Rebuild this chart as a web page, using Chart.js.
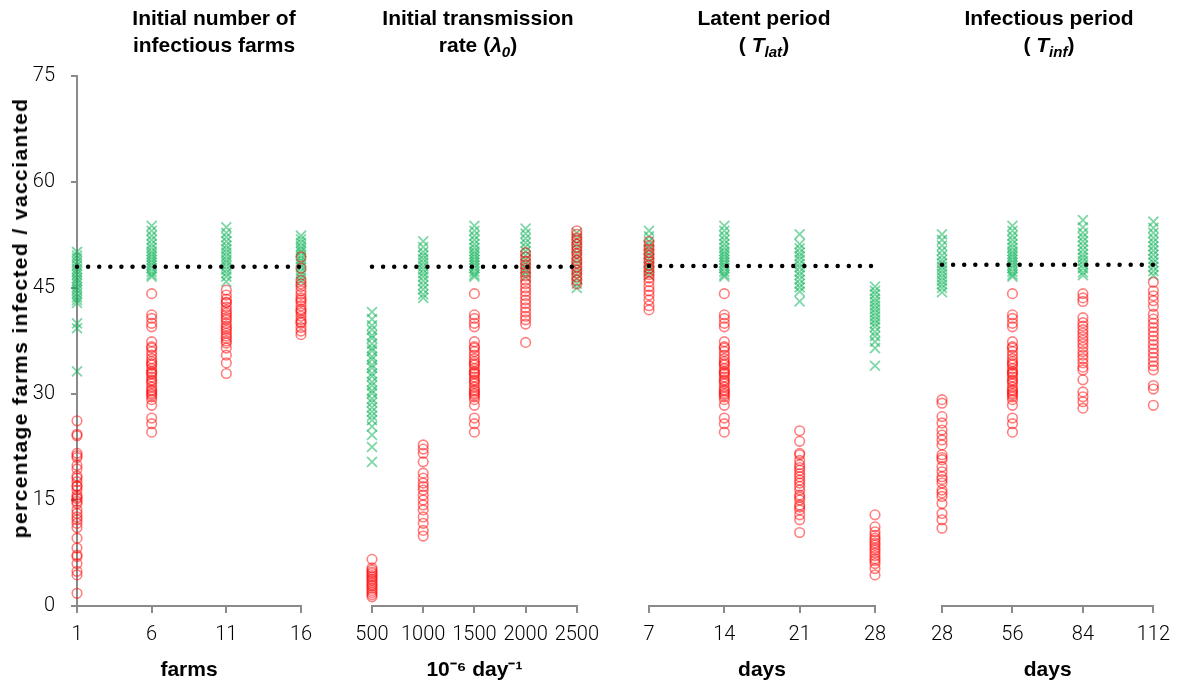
<!DOCTYPE html>
<html>
<head>
<meta charset="utf-8">
<script src="https://cdn.jsdelivr.net/npm/chart.js@4.4.1/dist/chart.umd.min.js"></script>
<style>
  html, body { margin: 0; padding: 0; background: #fff; }
  #wrap { position: relative; width: 1180px; height: 686px; overflow: hidden; }
  #wrap canvas { position: absolute; top: 0; }
  .ttl {
    position: absolute; top: 4px; transform: translateX(-50%);
    font: bold 21px "Liberation Sans", Arial, sans-serif; line-height: 27px;
    text-align: center; white-space: nowrap; color: #000;
  }
  .ttl sub { font-size: 0.72em; line-height: 0; vertical-align: -0.3em; }
  #ytitle {
    position: absolute; left: 20px; top: 318px;
    transform: translate(-50%, -50%) rotate(-90deg);
    font: bold 21px "Liberation Sans", Arial, sans-serif; letter-spacing: 1.4px;
    white-space: nowrap; color: #000;
  }
</style>
</head>
<body>
<div id="wrap">
  <canvas id="p1" width="330" height="686" style="left:0px"></canvas>
  <canvas id="p2" width="267" height="686" style="left:342px"></canvas>
  <canvas id="p3" width="286" height="686" style="left:619px"></canvas>
  <canvas id="p4" width="268" height="686" style="left:912px"></canvas>

  <div class="ttl" style="left:214px">Initial number of<br>infectious farms</div>
  <div class="ttl" style="left:478px">Initial transmission<br>rate (<i>λ<sub>0</sub></i>)</div>
  <div class="ttl" style="left:764px">Latent period<br>( <i>T<sub>lat</sub></i>)</div>
  <div class="ttl" style="left:1049px">Infectious period<br>( <i>T<sub>inf</sub></i>)</div>
  <div id="ytitle">percentage farms infected / vaccianted</div>
</div>

<script>
// baseline runs (6 farms, 1500, 14 days, 56 days) appear in every panel
const baselineInfected   = [44.2, 41.2, 40.7, 40.0, 39.5, 37.4, 36.7, 36.5, 36.0, 35.5, 35.0, 34.6, 34.3, 34.1, 33.6, 33.2, 33.0, 32.8, 32.4, 32.0, 31.8, 31.5, 31.0, 30.6, 30.4, 30.1, 29.9, 29.6, 29.2, 28.4, 26.6, 25.8, 24.6];
const baselineVaccinated = [53.8, 53.1, 52.4, 51.8, 51.2, 50.7, 50.2, 49.8, 49.4, 49.0, 48.6, 48.2, 47.8, 47.3, 46.9, 46.6];

// Initial number of infectious farms
const farmsX = [1, 6, 11, 16];
const farmsInfected = [
  [26.2, 24.3, 24.1, 21.6, 21.3, 21.0, 19.9, 19.4, 18.4, 18.1, 17.6, 17.0, 16.9, 16.4, 15.7, 15.4, 15.2, 14.8, 14.5, 13.6, 13.1, 12.6, 12.2, 11.7, 11.1, 9.6, 8.2, 7.2, 7.0, 6.0, 4.9, 4.4, 1.8],
  baselineInfected,
  [44.7, 44.0, 43.4, 43.0, 42.9, 42.3, 41.9, 41.5, 41.2, 40.8, 40.5, 40.0, 39.6, 39.3, 39.0, 38.6, 38.2, 37.9, 37.5, 37.2, 36.5, 35.5, 34.4, 32.9],
  [49.4, 47.8, 46.1, 45.6, 45.2, 44.6, 44.1, 43.6, 43.3, 43.0, 42.5, 42.0, 41.8, 41.5, 41.0, 40.5, 40.2, 40.0, 39.4, 38.9, 38.4],
];
const farmsVaccinated = [
  [50.1, 49.6, 49.2, 48.7, 48.2, 47.7, 47.3, 46.9, 46.4, 46.0, 45.6, 45.1, 44.7, 44.2, 43.7, 43.3, 42.9, 40.0, 39.3, 33.2],
  baselineVaccinated,
  [53.6, 52.8, 52.2, 51.6, 51.0, 50.5, 50.0, 49.5, 49.0, 48.6, 48.1, 47.6, 47.1, 46.6, 45.9],
  [52.4, 51.9, 51.4, 50.9, 50.5, 50.1, 49.6, 49.2, 48.8, 48.3, 47.9, 47.4, 46.9, 46.4, 45.9],
];
const farmsMean = 48.0;

// Initial transmission rate
const rateX = [500, 1000, 1500, 2000, 2500];
const rateInfected = [
  [6.6, 5.4, 5.1, 4.8, 4.6, 4.3, 4.1, 3.8, 3.6, 3.3, 3.0, 2.8, 2.5, 2.2, 1.9, 1.6, 1.3],
  [22.8, 22.2, 21.6, 20.4, 18.8, 18.1, 17.4, 16.9, 16.4, 15.7, 15.0, 14.3, 13.6, 12.6, 11.7, 10.7, 9.9],
  baselineInfected,
  [50.0, 49.4, 48.8, 48.3, 47.8, 47.2, 46.7, 46.1, 45.6, 45.0, 44.5, 43.9, 43.3, 42.8, 42.2, 41.6, 41.0, 40.5, 39.9, 37.3],
  [53.1, 52.6, 52.1, 51.7, 51.2, 50.8, 50.3, 49.9, 49.4, 48.9, 48.5, 48.0, 47.5, 47.1, 46.6, 46.1, 45.6],
];
const rateVaccinated = [
  [41.6, 40.6, 39.7, 39.1, 38.3, 37.9, 37.1, 36.5, 36.1, 35.3, 34.9, 34.1, 33.7, 32.9, 32.5, 31.7, 31.2, 30.5, 30.1, 29.3, 28.8, 28.1, 27.5, 26.9, 26.3, 25.4, 24.2, 22.5, 20.4],
  [51.6, 50.8, 50.1, 49.6, 49.1, 48.6, 48.1, 47.6, 47.1, 46.6, 46.0, 45.4, 44.8, 44.1, 43.6],
  baselineVaccinated,
  [53.4, 52.7, 52.0, 51.4, 50.8, 50.2, 49.6, 49.0, 48.4, 47.8, 47.2, 46.6],
  [52.8, 52.0, 51.3, 50.6, 49.8, 49.1, 48.4, 47.7, 47.0, 46.3, 45.6, 45.0],
];
const rateMean = 48.0;

// Latent period
const latentX = [7, 14, 21, 28];
const latentInfected = [
  [51.6, 51.0, 50.5, 50.0, 49.6, 49.1, 48.7, 48.2, 47.8, 47.3, 46.9, 46.4, 45.9, 45.2, 44.6, 44.0, 43.3, 42.5, 41.9],
  baselineInfected,
  [24.8, 23.3, 21.6, 21.4, 20.6, 20.0, 19.6, 19.2, 18.7, 18.3, 17.8, 17.4, 16.9, 16.4, 15.7, 15.4, 15.0, 14.3, 14.0, 13.6, 12.9, 12.2, 10.4],
  [12.9, 11.2, 10.5, 10.0, 9.6, 9.3, 8.9, 8.6, 8.2, 7.9, 7.5, 7.1, 6.7, 6.4, 6.0, 5.3, 4.4],
];
const latentVaccinated = [
  [53.1, 52.3, 51.6, 51.0, 50.4, 49.8, 49.2, 48.6, 48.0, 47.4, 46.8],
  baselineVaccinated,
  [52.6, 51.2, 50.6, 50.0, 49.5, 49.0, 48.4, 47.9, 47.3, 46.8, 46.2, 45.6, 45.1, 44.5, 43.1],
  [45.2, 44.6, 44.1, 43.5, 43.0, 42.5, 42.0, 41.5, 41.0, 40.5, 40.0, 39.5, 38.8, 38.2, 37.4, 36.5, 34.0],
];
const latentMean = 48.1;

// Infectious period
const infectiousX = [28, 56, 84, 112];
const infectiousInfected = [
  [29.2, 28.7, 26.8, 25.9, 24.9, 24.2, 23.5, 22.8, 21.4, 21.0, 20.7, 19.7, 19.0, 18.3, 17.9, 17.4, 16.4, 16.0, 15.5, 14.5, 13.1, 12.2, 11.0],
  baselineInfected,
  [44.2, 43.6, 43.1, 40.8, 40.1, 39.6, 39.1, 38.6, 38.1, 37.6, 37.1, 36.6, 36.0, 35.5, 35.0, 34.4, 33.8, 33.4, 32.0, 30.3, 29.6, 28.9, 28.0],
  [45.8, 44.6, 43.9, 43.2, 42.4, 41.3, 40.6, 40.0, 39.4, 38.8, 38.2, 37.6, 37.0, 36.4, 35.8, 35.2, 34.6, 34.0, 33.4, 31.2, 30.7, 28.4],
];
const infectiousVaccinated = [
  [52.6, 51.8, 51.0, 50.3, 49.6, 49.0, 48.5, 48.0, 47.5, 47.0, 46.5, 46.0, 45.5, 45.0, 44.4],
  baselineVaccinated,
  [54.6, 53.6, 52.8, 52.2, 51.6, 51.0, 50.4, 49.8, 49.3, 48.8, 48.3, 47.8, 47.2, 46.8],
  [54.4, 53.5, 52.8, 52.1, 51.5, 50.9, 50.3, 49.7, 49.1, 48.6, 48.0, 47.4, 46.8],
];
const infectiousMean = 48.3;

const yTicks = [0, 15, 30, 45, 60, 75];

const AXIS_GREY = '#8a8a8a';
const TICK_FONT = { family: 'Roboto, "Liberation Sans", sans-serif', size: 20, weight: '300' };
const TITLE_FONT = { family: '"Liberation Sans", Arial, sans-serif', size: 21, weight: 'bold' };

function buildPanel(id, xVals, infected, vaccinated, meanLevel, xTitle, showY, padL, padR) {
  const last = xVals[xVals.length - 1];
  const redPts   = xVals.flatMap((x, i) => infected[i].map(y => ({ x, y })));
  const greenPts = xVals.flatMap((x, i) => vaccinated[i].map(y => ({ x, y })));
  const meanPts  = [{ x: xVals[0], y: meanLevel }, { x: last, y: meanLevel }];

  return new Chart(document.getElementById(id), {
    type: 'scatter',
    data: {
      datasets: [
        {
          type: 'line', data: meanPts, order: 0, clip: false,
          borderColor: '#000', borderWidth: 4.5, borderDash: [0, 11.1], borderCapStyle: 'round',
          pointRadius: 0, fill: false,
        },
        {
          data: redPts, order: 1, clip: false,
          pointStyle: 'circle', pointRadius: 4.8,
          pointBorderColor: 'rgba(255,0,0,0.5)', pointBackgroundColor: 'rgba(0,0,0,0)', pointBorderWidth: 1.6,
        },
        {
          data: greenPts, order: 2, clip: false,
          pointStyle: 'crossRot', pointRadius: 7,
          pointBorderColor: 'rgba(0,176,80,0.5)', pointBackgroundColor: 'rgba(0,176,80,0.5)', pointBorderWidth: 1.8,
        },
      ],
    },
    options: {
      responsive: false,
      animation: false,
      events: [],
      layout: { padding: { top: 76, bottom: 0, left: padL, right: padR } },
      plugins: { legend: { display: false }, tooltip: { enabled: false } },
      scales: {
        x: {
          type: 'linear', min: xVals[0], max: last,
          afterBuildTicks: s => { s.ticks = xVals.map(v => ({ value: v })); },
          afterFit: s => { s.height = 80; },
          border: { display: true, color: AXIS_GREY, width: 2 },
          grid: { drawOnChartArea: false, drawTicks: true, tickLength: 7, color: AXIS_GREY, lineWidth: 2 },
          ticks: { autoSkip: false, maxRotation: 0, padding: 10, color: '#000', font: TICK_FONT, callback: v => String(v) },
          title: { display: true, text: xTitle, color: '#000', font: TITLE_FONT, padding: { top: 0, bottom: 3 } },
        },
        y: {
          display: showY, min: 0, max: 75,
          afterBuildTicks: s => { s.ticks = yTicks.map(v => ({ value: v })); },
          afterFit: s => { if (showY) s.width = 77; },
          border: { display: true, color: AXIS_GREY, width: 2 },
          grid: { drawOnChartArea: false, drawTicks: true, tickLength: 6, color: AXIS_GREY, lineWidth: 2 },
          ticks: { padding: 16, color: '#000', font: TICK_FONT, callback: v => String(v) },
        },
      },
    },
  });
}

buildPanel('p1', farmsX, farmsInfected, farmsVaccinated, farmsMean, 'farms', true, 0, 29);
buildPanel('p2', rateX, rateInfected, rateVaccinated, rateMean, '10⁻⁶ day⁻¹', false, 30, 30);
buildPanel('p3', latentX, latentInfected, latentVaccinated, latentMean, 'days', false, 30, 30);
buildPanel('p4', infectiousX, infectiousInfected, infectiousVaccinated, infectiousMean, 'days', false, 30, 21);
</script>
</body>
</html>
